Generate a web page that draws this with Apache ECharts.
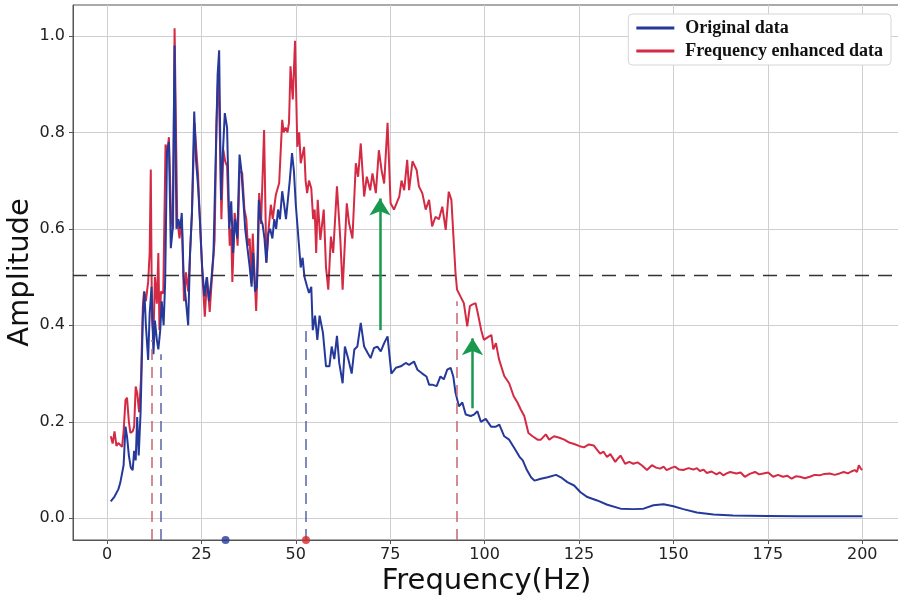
<!DOCTYPE html>
<html>
<head>
<meta charset="utf-8">
<script src="https://cdn.jsdelivr.net/npm/echarts@6/dist/echarts.min.js"></script>
<style>
  html, body { margin: 0; padding: 0; background: #fff; }
  #chart { width: 898px; height: 602px; }
</style>
</head>
<body>
<div id="chart"></div>
<script>
// original spectrum [Hz, amplitude]
const originalData = [
  [1.0,0.035],[1.5,0.038],[2.0,0.045],[2.5,0.046],[3.0,0.06],[3.5,0.073],[4.0,0.076],[4.4,0.11],[4.9,0.19],[5.3,0.17],
  [5.8,0.13],[6.3,0.105],[6.8,0.10],[7.2,0.14],[7.6,0.12],[8.0,0.21],[8.4,0.13],[8.9,0.22],[9.5,0.417],[9.9,0.47],
  [10.3,0.40],[10.9,0.328],[11.3,0.424],[11.8,0.48],[12.3,0.34],[12.7,0.41],[13.2,0.37],[13.6,0.35],[14.1,0.39],[14.5,0.45],
  [15.0,0.40],[15.4,0.49],[15.9,0.76],[16.4,0.78],[16.9,0.56],[17.4,0.60],[17.9,0.98],[18.4,0.60],[18.9,0.62],[19.4,0.60],
  [19.8,0.633],[20.3,0.50],[20.8,0.46],[21.5,0.40],[22.0,0.55],[22.5,0.633],[23.1,0.843],[23.6,0.74],[24.1,0.69],[24.6,0.62],
  [25.2,0.52],[25.8,0.46],[26.4,0.50],[27.0,0.45],[27.6,0.49],[28.2,0.55],[28.8,0.75],[29.3,0.92],[29.7,0.97],[30.2,0.66],
  [30.7,0.76],[31.2,0.84],[31.8,0.81],[32.4,0.60],[32.9,0.657],[33.4,0.55],[33.9,0.62],[34.5,0.58],[35.1,0.754],[35.6,0.72],
  [36.1,0.66],[36.6,0.60],[37.2,0.56],[37.8,0.52],[38.3,0.48],[38.7,0.55],[39.2,0.47],[39.7,0.48],[40.2,0.66],[40.7,0.62],
  [41.2,0.61],[41.7,0.58],[42.2,0.53],[42.7,0.59],[43.2,0.60],[43.8,0.58],[44.3,0.62],[44.8,0.60],[45.3,0.64],[45.8,0.62],
  [46.4,0.678],[46.9,0.65],[47.4,0.62],[47.9,0.66],[48.4,0.70],[49.0,0.757],[49.5,0.72],[50.0,0.65],[50.4,0.647],[50.9,0.56],
  [51.3,0.52],[51.8,0.54],[52.3,0.50],[53.0,0.48],[53.5,0.467],[54.1,0.48],[54.5,0.39],[55.1,0.42],[55.7,0.37],[56.3,0.42],
  [57.2,0.384],[58.0,0.315],[58.9,0.315],[59.5,0.356],[60.2,0.33],[60.9,0.378],[61.5,0.322],[62.4,0.28],[63.0,0.356],[63.9,0.33],
  [64.8,0.30],[65.5,0.35],[66.3,0.356],[67.2,0.405],[68.1,0.356],[69.0,0.343],[69.8,0.332],[70.7,0.353],[71.6,0.356],[72.5,0.346],
  [73.4,0.363],[74.3,0.377],[75.3,0.30],[76.5,0.312],[77.8,0.315],[79.1,0.322],[80.0,0.318],[81.3,0.325],[82.2,0.308],[83.5,0.30],
  [84.6,0.294],[85.3,0.277],[86.1,0.277],[87.3,0.274],[88.3,0.294],[89.2,0.288],[90.1,0.308],[91.0,0.312],[91.7,0.294],[92.3,0.26],
  [93.2,0.232],[94.1,0.24],[95.0,0.215],[96.3,0.212],[97.2,0.215],[98.1,0.222],[99.0,0.20],[100.3,0.206],[101.7,0.19],[103.0,0.19],
  [103.9,0.194],[105.2,0.17],[106.5,0.163],[107.9,0.145],[109.2,0.128],[110.1,0.12],[111.2,0.10],[112.3,0.085],[113.2,0.078],[114.9,0.082],
  [116.7,0.085],[118.9,0.09],[120.2,0.085],[121.9,0.075],[123.7,0.068],[125.4,0.054],[127.2,0.044],[129.8,0.037],[132.5,0.028],[136.0,0.02],
  [139.4,0.019],[142.1,0.02],[144.7,0.027],[147.4,0.029],[150.0,0.025],[152.6,0.019],[156.2,0.012],[160.6,0.008],[165.8,0.006],[174.6,0.005],
  [183.5,0.004],[200.0,0.004]
];

// frequency enhanced spectrum [Hz, amplitude]
const enhancedData = [
  [1.0,0.17],[1.5,0.155],[2.0,0.18],[2.5,0.15],[3.0,0.156],[3.5,0.152],[4.0,0.148],[4.4,0.18],[4.9,0.245],[5.3,0.25],
  [5.8,0.20],[6.2,0.177],[6.8,0.18],[7.2,0.19],[7.6,0.273],[8.0,0.26],[8.5,0.22],[9.0,0.287],[9.5,0.44],[9.8,0.47],
  [10.3,0.45],[10.9,0.49],[11.3,0.55],[11.6,0.723],[11.9,0.417],[12.3,0.375],[12.7,0.50],[13.2,0.445],[13.6,0.55],[13.9,0.39],
  [14.3,0.47],[14.9,0.466],[15.5,0.775],[16.0,0.76],[16.4,0.79],[17.0,0.62],[17.5,0.60],[17.9,1.016],[18.6,0.62],[19.2,0.58],
  [19.8,0.62],[20.4,0.45],[20.9,0.51],[21.5,0.47],[22.0,0.55],[22.5,0.633],[23.2,0.82],[23.6,0.77],[24.1,0.715],[24.7,0.60],
  [25.3,0.50],[25.9,0.418],[26.5,0.50],[27.2,0.428],[27.8,0.50],[28.5,0.577],[29.0,0.82],[29.5,0.93],[30.0,0.75],[30.3,0.62],
  [30.8,0.764],[31.3,0.74],[31.8,0.73],[32.5,0.565],[32.9,0.60],[33.2,0.49],[33.8,0.633],[34.3,0.60],[34.6,0.565],[35.1,0.72],
  [35.8,0.716],[36.4,0.64],[36.9,0.62],[37.3,0.565],[37.8,0.58],[38.2,0.488],[38.6,0.59],[39.0,0.52],[39.5,0.43],[40.0,0.55],
  [40.3,0.674],[40.8,0.61],[41.6,0.805],[42.2,0.53],[42.8,0.60],[43.4,0.65],[43.9,0.62],[44.7,0.67],[45.2,0.67],[45.6,0.695],
  [46.4,0.826],[46.8,0.80],[47.3,0.81],[47.8,0.80],[48.2,0.82],[48.6,0.937],[49.2,0.868],[49.8,0.99],[50.4,0.77],[50.9,0.80],
  [51.3,0.736],[51.8,0.74],[52.2,0.77],[52.6,0.70],[53.0,0.674],[53.5,0.70],[54.1,0.684],[54.6,0.62],[55.0,0.64],[55.4,0.55],
  [55.8,0.66],[56.5,0.577],[57.4,0.64],[58.0,0.52],[58.6,0.474],[59.3,0.584],[59.9,0.55],[60.9,0.688],[61.8,0.577],[62.4,0.474],
  [63.5,0.653],[64.1,0.612],[65.0,0.58],[65.9,0.736],[66.5,0.708],[67.2,0.777],[68.1,0.667],[68.8,0.708],[69.7,0.68],[70.3,0.715],
  [71.2,0.674],[72.0,0.763],[72.7,0.722],[73.4,0.694],[74.3,0.82],[75.1,0.653],[76.0,0.64],[77.4,0.667],[78.0,0.70],[78.7,0.68],
  [79.5,0.743],[80.0,0.68],[80.9,0.74],[82.0,0.722],[82.6,0.688],[83.5,0.674],[84.4,0.64],[85.3,0.66],[86.1,0.605],[87.0,0.625],
  [87.9,0.62],[88.8,0.646],[89.7,0.598],[90.5,0.677],[91.2,0.66],[91.9,0.563],[92.3,0.508],[92.7,0.474],[93.6,0.46],[94.5,0.446],
  [95.4,0.398],[96.1,0.44],[96.7,0.443],[97.6,0.446],[98.2,0.425],[99.1,0.39],[99.8,0.37],[101.2,0.377],[101.8,0.38],[102.3,0.35],
  [103.0,0.363],[103.8,0.33],[105.2,0.295],[106.5,0.28],[107.7,0.253],[108.7,0.24],[109.6,0.225],[110.5,0.212],[111.6,0.177],[112.7,0.17],
  [114.0,0.163],[114.9,0.163],[116.2,0.174],[117.1,0.163],[118.4,0.17],[119.8,0.167],[121.1,0.163],[122.4,0.157],[123.7,0.154],[125.0,0.15],
  [126.3,0.147],[127.6,0.153],[128.9,0.151],[129.8,0.142],[130.6,0.134],[131.5,0.138],[132.4,0.127],[133.3,0.133],[134.6,0.117],[135.3,0.124],
  [136.0,0.13],[137.2,0.113],[138.3,0.117],[139.4,0.113],[140.5,0.116],[141.6,0.11],[143.0,0.10],[144.3,0.11],[145.4,0.105],[146.5,0.103],
  [147.4,0.107],[148.2,0.10],[149.3,0.104],[150.4,0.107],[151.5,0.101],[152.6,0.10],[154.0,0.104],[155.3,0.101],[156.2,0.104],[157.0,0.098],
  [158.0,0.101],[158.8,0.094],[160.1,0.097],[161.4,0.091],[162.3,0.095],[163.2,0.089],[164.1,0.093],[165.0,0.096],[166.7,0.093],[167.8,0.095],
  [168.9,0.086],[170.2,0.092],[171.6,0.096],[172.7,0.091],[173.8,0.093],[175.1,0.095],[176.4,0.086],[177.7,0.09],[179.0,0.086],[180.2,0.088],
  [181.3,0.082],[182.4,0.087],[183.5,0.086],[184.8,0.083],[186.1,0.086],[187.4,0.09],[188.7,0.089],[190.0,0.092],[191.4,0.093],[192.7,0.09],
  [194.0,0.093],[195.1,0.096],[196.2,0.093],[197.1,0.097],[198.0,0.10],[198.6,0.096],[199.1,0.11],[199.6,0.103],[200.0,0.10]
];

const xTicks = [0, 25, 50, 75, 100, 125, 150, 175, 200];
const yTicks = [0, 0.2, 0.4, 0.6, 0.8, 1.0];
const threshold = 0.503;

// vertical dashed markers: frequency, top amplitude, which curve colour
const markerFreqs = [11.9, 14.3, 52.7, 92.6];
const markerTops = [0.37, 0.34, 0.39, 0.45];
const markerKinds = ['enh', 'orig', 'orig', 'enh'];

// dots on the bottom axis
const dotOrigFreq = 31.4;
const dotEnhFreq = 52.7;

// green arrows
const arrowFreqs = [72.3, 96.8];
const arrowFrom = [0.39, 0.228];
const arrowTo = [0.663, 0.373];

const X_MIN = -9, X_MAX = 210;
const Y_MIN = -0.045, Y_MAX = 1.064;
const BLUE = '#25399a', RED = '#d42a44';

const chart = echarts.init(document.getElementById('chart'));

const markerLines = markerFreqs.map((f, i) => [
  { coord: [f, Y_MIN], lineStyle: { color: markerKinds[i] === 'enh' ? '#c96572' : '#5a64a3' } },
  { coord: [f, markerTops[i]] }
]);

const arrows = arrowFreqs.map((f, i) => [
  { coord: [f, arrowFrom[i]] },
  { coord: [f, arrowTo[i]] }
]);

chart.setOption({
  animation: false,
  grid: {
    left: 73, top: 5, width: 827, height: 535,
    outerBoundsMode: 'none',
    containLabel: false,
    show: true, borderColor: '#555', borderWidth: 1
  },
  legend: {
    right: 7, top: 14,
    orient: 'vertical',
    backgroundColor: '#fff',
    borderColor: '#d6d6d6', borderWidth: 1, borderRadius: 4,
    padding: [5, 8, 5, 8],
    itemGap: 5, itemWidth: 38, itemHeight: 3,
    icon: 'rect',
    textStyle: { fontFamily: 'Liberation Serif', fontWeight: 'bold', fontSize: 18, color: '#111', padding: [0, 0, 0, 6] },
    data: ['Original data', 'Frequency enhanced data']
  },
  xAxis: {
    type: 'value', min: X_MIN, max: X_MAX,
    name: 'Frequency(Hz)', nameLocation: 'middle', nameGap: 27,
    nameMoveOverlap: false,
    nameTextStyle: { fontFamily: 'DejaVu Sans', fontSize: 29, color: '#111' },
    axisLine: { show: true, onZero: false, lineStyle: { color: '#555' } },
    axisTick: { show: true, inside: false, length: 4, customValues: xTicks, lineStyle: { color: '#555' } },
    axisLabel: { customValues: xTicks, fontFamily: 'DejaVu Sans', fontSize: 16, color: '#222', margin: 7 },
    splitLine: { show: true, lineStyle: { color: '#cfcfcf', width: 1 } }
  },
  yAxis: {
    type: 'value', min: Y_MIN, max: Y_MAX,
    name: 'Amplitude', nameLocation: 'middle', nameGap: 38,
    nameMoveOverlap: false,
    nameTextStyle: { fontFamily: 'DejaVu Sans', fontSize: 29, color: '#111' },
    axisLine: { show: true, onZero: false, lineStyle: { color: '#555' } },
    axisTick: { show: true, inside: false, length: 4, customValues: yTicks, lineStyle: { color: '#555' } },
    axisLabel: {
      customValues: yTicks, fontFamily: 'DejaVu Sans', fontSize: 16, color: '#222', margin: 8,
      formatter: v => v.toFixed(1)
    },
    splitLine: { show: true, lineStyle: { color: '#cfcfcf', width: 1 } }
  },
  series: [
    {
      name: 'Original data',
      type: 'line',
      data: originalData,
      symbol: 'none',
      color: BLUE,
      lineStyle: { color: BLUE, width: 2 },
      z: 3,
      markLine: {
        silent: true, symbol: ['none', 'none'],
        label: { show: false },
        lineStyle: { type: [11, 7], width: 1.5 },
        data: markerLines.concat([[
          { coord: [X_MIN, threshold], lineStyle: { color: '#333', type: [14, 9], width: 1.3 } },
          { coord: [X_MAX, threshold] }
        ]])
      }
    },
    {
      name: 'Frequency enhanced data',
      type: 'line',
      data: enhancedData,
      symbol: 'none',
      color: RED,
      lineStyle: { color: RED, width: 2 },
      z: 2,
      markLine: {
        silent: true, symbol: ['none', 'arrow'], symbolSize: [16, 17],
        label: { show: false },
        lineStyle: { color: '#18994d', type: 'solid', width: 2.5 },
        data: arrows
      }
    },
    {
      type: 'scatter',
      clip: false,
      symbolSize: 8,
      data: [
        { value: [dotOrigFreq, Y_MIN], itemStyle: { color: BLUE } },
        { value: [dotEnhFreq, Y_MIN], itemStyle: { color: '#d42a2a' } }
      ],
      z: 5
    }
  ]
});
</script>
</body>
</html>
